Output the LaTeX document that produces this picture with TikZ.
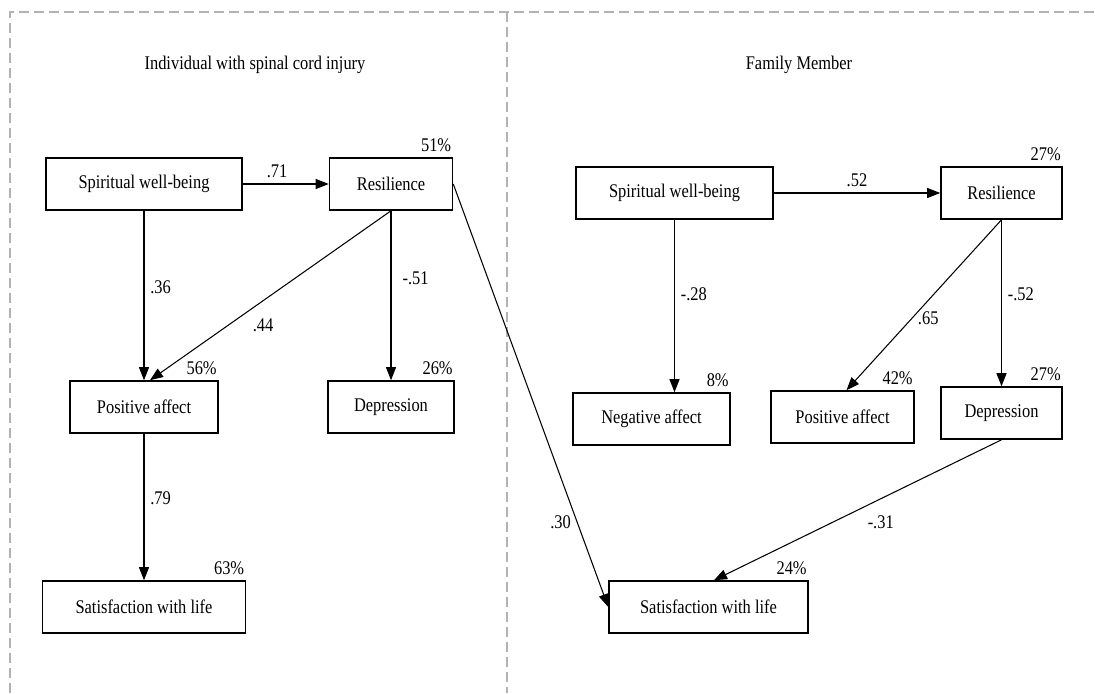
\documentclass[tikz,border=0pt]{standalone}
\usepackage{fontspec}
\setmainfont[FakeStretch=0.85]{Liberation Serif}
\usepackage{tikz}
\usetikzlibrary{arrows.meta, positioning}
\tikzset{
  var/.style={rectangle, draw=black, line width=0.9pt, fill=white,
    minimum height=1.04cm, inner sep=2pt, align=center, font=\fontsize{11pt}{13pt}\selectfont},
  pct/.style={anchor=south east, inner xsep=1pt, inner ysep=3pt,
    font=\fontsize{11pt}{13pt}\selectfont},
  coef/.style={font=\fontsize{11pt}{13pt}\selectfont},
  titulo/.style={font=\fontsize{11pt}{13pt}\selectfont},
  effect/.style={-{Triangle[length=2.6mm, width=2mm]}, line width=0.6pt},
  frame/.style={gray!60, line width=0.6pt, dash pattern=on 0.2cm off 0.1cm}
}
\begin{document}
\begin{tikzpicture}[x=0.02cm, y=-0.02cm]
  \useasboundingbox[fill=white] (0,0) rectangle (1095,693);
  \draw[frame] (10,693) |- (1095,12);
  \draw[frame] (507,12) -- (507,693);

  % individual with SCI
  \node[titulo] (titleA) at (255,65) {Individual with spinal cord injury};
  \node[var, minimum width=3.92cm] (swbA) at (144,184) {Spiritual well-being};
  \node[var, minimum width=2.46cm] (resA) at (391,184) {Resilience};
  \node[var, minimum width=2.96cm] (paA) at (144,407) {Positive affect};
  \node[var, minimum width=2.52cm] (depA) at (391,407) {Depression};
  \node[var, minimum width=4.06cm] (swlA) at (144,607) {Satisfaction with life};
  \node[pct] (resAr) at (resA.north east) {51\%};
  \node[pct] (paAr) at (paA.north east) {56\%};
  \node[pct] (depAr) at (depA.north east) {26\%};
  \node[pct] (swlAr) at (swlA.north east) {63\%};

  \draw[effect] (swbA) -- node[coef, above, pos=0.4] {.71} (resA);
  \draw[effect] (swbA) -- node[coef, right, pos=0.45] {.36} (paA);
  \draw[effect] (resA.south) -- node[coef, below right, pos=0.6] {.44} ([xshift=0.12cm]paA.north);
  \draw[effect] (resA) -- node[coef, right=3pt, pos=0.4] {-.51} (depA);
  \draw[effect] (paA) -- node[coef, right, pos=0.44] {.79} (swlA);

  % family member
  \node[titulo] (titleB) at (799,65) {Family Member};
  \node[var, minimum width=3.94cm] (swbB) at (674.5,193) {Spiritual well-being};
  \node[var, minimum width=2.42cm] (resB) at (1001.5,193) {Resilience};
  \node[var, minimum width=3.14cm] (naB) at (651.5,419) {Negative affect};
  \node[var, minimum width=2.86cm] (paB) at (842.5,417) {Positive affect};
  \node[var, minimum width=2.42cm] (depB) at (1001.5,413) {Depression};
  \node[var, minimum width=3.98cm] (swlB) at (708.5,607) {Satisfaction with life};
  \node[pct] (resBr) at (resB.north east) {27\%};
  \node[pct] (naBr) at (naB.north east) {8\%};
  \node[pct] (paBr) at (paB.north east) {42\%};
  \node[pct] (depBr) at (depB.north east) {27\%};
  \node[pct] (swlBr) at (swlB.north east) {24\%};

  \draw[effect] (swbB) -- node[coef, above, pos=0.5] {.52} (resB);
  \draw[effect] (swbB.south) -- node[coef, right, pos=0.43] {-.28} (swbB.south |- naB.north);
  \draw[effect] (resB.south) -- node[coef, right, pos=0.58] {.65} ([xshift=0.08cm]paB.north);
  \draw[effect] (resB) -- node[coef, right=0pt, pos=0.45] {-.52} (depB);
  \draw[effect] (depB.south) -- node[coef, below=6pt, pos=0.42] {-.31} ([xshift=0.11cm]swlB.north);

  % across panels
  \draw[effect] (resA.east) -- node[coef, left, pos=0.8] {.30} (swlB.west);
\end{tikzpicture}
\end{document}
